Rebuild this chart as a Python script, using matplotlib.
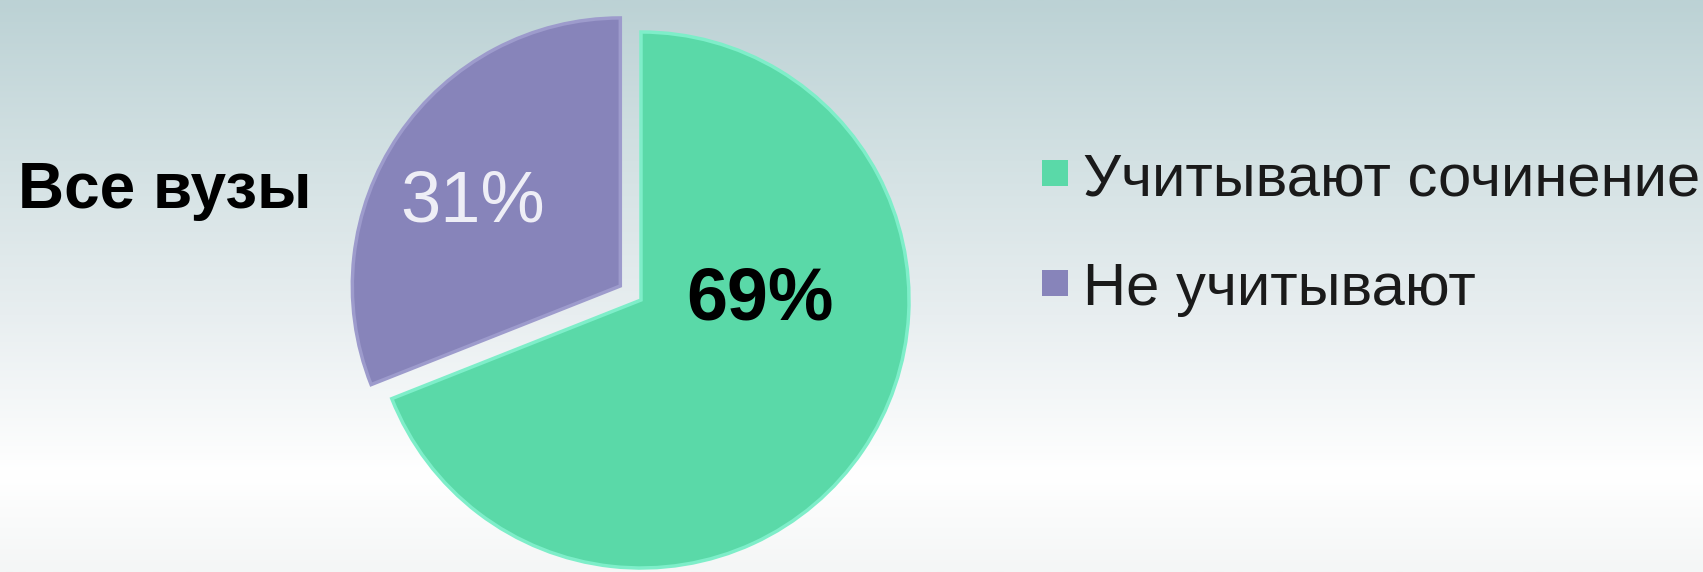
import numpy as np
import matplotlib.pyplot as plt
from matplotlib.colors import LinearSegmentedColormap
from matplotlib.patches import Rectangle

plt.rcParams['font.family'] = ['Liberation Sans', 'DejaVu Sans']

# data
title = "Все вузы"
categories = ["Учитывают сочинение", "Не учитывают"]
shares = [69, 31]
colors = ["#5ad9a8", "#8784ba"]
rims = ["#7eeec9", "#9d9bcc"]

W, H = 1703, 572
fig = plt.figure(figsize=(W / 100, H / 100), dpi=100)
ax = fig.add_axes([0, 0, 1, 1])

# background gradient (bottom -> top)
bg = LinearSegmentedColormap.from_list(
    "bg", [(0, "#f4f6f6"), (0.17, "#ffffff"), (0.45, "#e8eef0"),
           (0.72, "#d3e1e3"), (1, "#bcd2d5")])
ax.imshow(np.linspace(0, 1, 256).reshape(-1, 1), extent=(0, W, 0, H),
          origin='lower', cmap=bg, aspect='auto', zorder=0)

# pie, in pixel-like data units
cx, cy, r = 641, H - 300, 268
wedges, _ = ax.pie(shares, colors=colors, startangle=90, counterclock=False,
                   explode=[0, 25], center=(cx, cy), radius=r,
                   wedgeprops=dict(linewidth=2.5, zorder=2))
for w, rc in zip(wedges, rims):
    w.set_edgecolor(rc)

# percent labels, offsets from each wedge's own centre
offsets = [(119, -20), (-148, 64)]
label_style = [dict(color="black", fontweight="bold", fontsize=53),
               dict(color="#eeeef6", fontweight="normal", fontsize=52)]
for w, v, (dx, dy), st in zip(wedges, shares, offsets, label_style):
    x0, y0 = w.center
    ax.text(x0 + dx, y0 + dy, f"{v}%", ha="center", va="baseline", zorder=3, **st)

# title on the left
ax.text(18, H - 208, title, fontsize=46, fontweight="bold", color="black",
        ha="left", va="baseline", zorder=3)

# legend on the right
lx, tx, base0, pitch, sq = 1042, 1083, H - 195, 110, 26
for i, (name, c) in enumerate(zip(categories, colors)):
    yb = base0 - i * pitch
    ax.add_patch(Rectangle((lx, yb + 22 - sq / 2), sq, sq, facecolor=c,
                           edgecolor="none", zorder=3))
    ax.text(tx, yb, name, fontsize=43, color="#1a1a1a", ha="left",
            va="baseline", zorder=3)

ax.set_xlim(0, W)
ax.set_ylim(0, H)
ax.set_aspect('auto')
ax.axis('off')

fig.savefig("out.png", dpi=100)
